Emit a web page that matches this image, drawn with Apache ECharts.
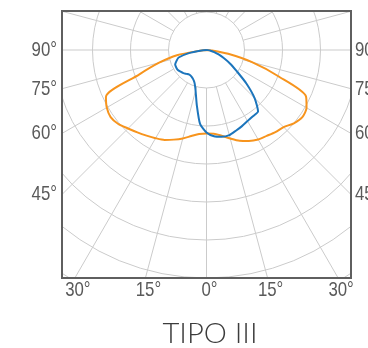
<!DOCTYPE html>
<html><head><meta charset="utf-8">
<script src="https://cdn.jsdelivr.net/npm/echarts@6/dist/echarts.min.js"></script>
<style>html,body{margin:0;padding:0;background:#fff}#c{width:368px;height:348px}</style>
</head><body><div id="c"></div>
<script>
// gamma angle (deg, negative = left half-plane) and intensity (cd/klm, one ring = 100)
const gammaAngles = [-90,-85,-80,-75,-70,-65,-60,-55,-50,-45,-40,-35,-30,-25,-20,-15,-10,-5,0,5,10,15,20,25,30,35,40,45,50,55,60,65,70,75,80,85,90];
const orangeValues = [0,13,79,129,189,292,303,308,303,292,283,275,268,261,251,241,230,222,220,221,229,241,254,264,272,276,282,287,300,308,304,289,200,124,58,13,0];
const blueValues = [0,13,47,76,84,91,92,92,89,86,82,79,80,84,92,111,147,195,217,228,232,232,226,221,216,213,211,179,137,97,72,50,34,21,11,4,0];
const sideTickLabels = [90, 75, 60, 45];
const bottomTickLabels = [-30, -15, 0, 15, 30];
const titleText = 'TIPO III';

const BOX = {left: 62, top: 11, right: 351, bottom: 278};
const CX = 206.5, CY = 50, RING = 38, NRING = 7;
const RMAX = RING * NRING;
const TEXT_FONT = '21px "Liberation Sans", Arial, sans-serif';
const NARROW = 0.8;
const TEXT_COLOR = '#5a5a5a';
const GRID_COLOR = '#cbcbcb';

const chart = echarts.init(document.getElementById('c'), null, {renderer: 'canvas', width: 368, height: 348});

const hiddenAngle = (idx, split) => ({
  polarIndex: idx, type: 'value', min: -180, max: 180, interval: 15, startAngle: 90, clockwise: false,
  axisLine: {show: false}, axisTick: {show: false}, axisLabel: {show: false},
  splitLine: {show: split, lineStyle: {color: GRID_COLOR, width: 1}}
});

const graphics = [];
// white masks outside the frame (clip the polar grid to the rectangle)
const maskStyle = {fill: '#fff'};
graphics.push({type: 'rect', z: 100, shape: {x: 0, y: 0, width: 368, height: BOX.top}, style: maskStyle, silent: true});
graphics.push({type: 'rect', z: 100, shape: {x: 0, y: 0, width: BOX.left, height: 348}, style: maskStyle, silent: true});
graphics.push({type: 'rect', z: 100, shape: {x: BOX.right, y: 0, width: 368 - BOX.right, height: 348}, style: maskStyle, silent: true});
graphics.push({type: 'rect', z: 100, shape: {x: 0, y: BOX.bottom, width: 368, height: 348 - BOX.bottom}, style: maskStyle, silent: true});
// frame
graphics.push({type: 'rect', z: 101, shape: {x: BOX.left, y: BOX.top, width: BOX.right - BOX.left, height: BOX.bottom - BOX.top},
  style: {fill: 'none', stroke: '#5f5f5f', lineWidth: 2}, silent: true});
// side labels where spokes meet the vertical edges
sideTickLabels.forEach(g => {
  const y = CY + (CX - BOX.left) * Math.tan((90 - g) * Math.PI / 180);
  graphics.push({type: 'text', z: 102, x: BOX.left - 5, y: y, scaleX: NARROW,
    style: {text: g + '°', font: TEXT_FONT, fill: TEXT_COLOR, textAlign: 'right', textVerticalAlign: 'middle'}});
  graphics.push({type: 'text', z: 102, x: BOX.right + 4, y: y, scaleX: NARROW,
    style: {text: g + '°', font: TEXT_FONT, fill: TEXT_COLOR, textAlign: 'left', textVerticalAlign: 'middle'}});
});
// bottom labels where spokes meet the bottom edge
bottomTickLabels.forEach(g => {
  const x = CX + (BOX.bottom - CY) * Math.tan(g * Math.PI / 180) + 3;
  graphics.push({type: 'text', z: 102, x: x, y: 290, scaleX: NARROW,
    style: {text: Math.abs(g) + '°', font: TEXT_FONT, fill: TEXT_COLOR, textAlign: 'center', textVerticalAlign: 'middle'}});
});
graphics.push({type: 'text', z: 102, x: 210, y: 334, scaleX: 1.08,
  style: {text: titleText, font: '300 27px Lato, "Open Sans", sans-serif', fill: '#3c3c3c', textAlign: 'center', textVerticalAlign: 'middle'}});

chart.setOption({
  animation: false,
  polar: [
    {center: [CX, CY], radius: [RING, RMAX]},
    {center: [CX, CY], radius: [0, RMAX]}
  ],
  angleAxis: [hiddenAngle(0, true), hiddenAngle(1, false)],
  radiusAxis: [
    {polarIndex: 0, type: 'value', min: 0, max: NRING - 1, interval: 1,
     axisLine: {show: false}, axisTick: {show: false}, axisLabel: {show: false},
     splitLine: {show: true, lineStyle: {color: GRID_COLOR, width: 1}}},
    {polarIndex: 1, type: 'value', min: 0, max: NRING * 100,
     axisLine: {show: false}, axisTick: {show: false}, axisLabel: {show: false}, splitLine: {show: false}}
  ],
  graphic: {elements: graphics},
  series: [
    {type: 'line', coordinateSystem: 'polar', polarIndex: 1, symbol: 'none', smooth: 0.25,
     lineStyle: {color: '#F7941D', width: 2}, data: gammaAngles.map((g, i) => [orangeValues[i], g])},
    {type: 'line', coordinateSystem: 'polar', polarIndex: 1, symbol: 'none', smooth: 0.2,
     lineStyle: {color: '#1C75BC', width: 2}, data: gammaAngles.map((g, i) => [blueValues[i], g])}
  ]
});
</script>
</body></html>
